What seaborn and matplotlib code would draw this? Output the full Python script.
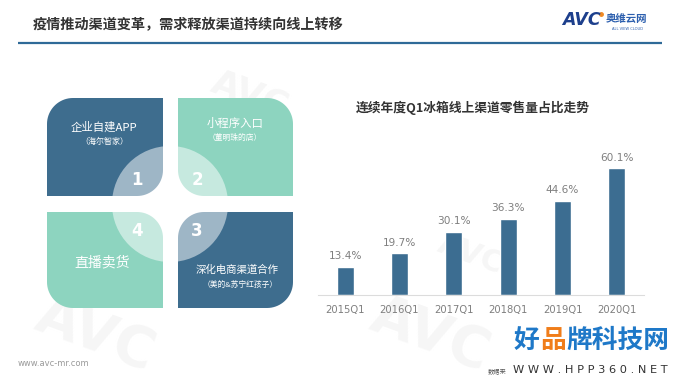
import numpy as np
import pandas as pd
import matplotlib
matplotlib.use("Agg")
import matplotlib.pyplot as plt
import seaborn as sns
from matplotlib.patches import Polygon, Circle

# ---- data ----
quarters = ["2015Q1", "2016Q1", "2017Q1", "2018Q1", "2019Q1", "2020Q1"]
online_share = [13.4, 19.7, 30.1, 36.3, 44.6, 60.1]
share_labels = ["13.4%", "19.7%", "30.1%", "36.3%", "44.6%", "60.1%"]

page_title = "疫情推动渠道变革，需求释放渠道持续向线上转移"
chart_title = "连续年度Q1冰箱线上渠道零售量占比走势"
tile_titles = ["企业自建APP", "小程序入口", "深化电商渠道合作", "直播卖货"]
tile_notes = ["（海尔智家）", "（董明珠的店）", "（美的&苏宁红孩子）", ""]
tile_numbers = ["1", "2", "3", "4"]

sns.set_theme(style="white")
plt.rcParams["font.family"] = ["Noto Sans CJK SC", "DejaVu Sans"]

W, H = 680, 383
fig = plt.figure(figsize=(W / 100, H / 100), dpi=100)
fig.patch.set_facecolor("white")

# background / decoration axes in pixel coordinates
bg = fig.add_axes([0, 0, 1, 1])
bg.set_xlim(0, W)
bg.set_ylim(H, 0)
bg.axis("off")
bg.set_zorder(0)

DARK = "#3e6d8e"
TEAL = "#8dd4bf"

# faint watermarks
for (wx, wy, s) in [(95, 335, 40), (430, 335, 40), (250, 95, 26), (470, 255, 22)]:
    bg.text(wx, wy, "AVC", fontsize=s, fontweight="bold", color="#f6f6f6",
            rotation=-20, ha="center", va="center", zorder=0.5,
            family=["DejaVu Sans"])

# title and rule
bg.text(33, 25, page_title, fontsize=10.2, fontweight="bold", color="#333333",
        ha="left", va="center")
bg.plot([18, 662], [42.5, 42.5], color="#2f6a98", lw=1.6, solid_capstyle="butt")

# AVC logo
bg.text(562, 20, "AVC", fontsize=12.5, fontweight="bold", fontstyle="italic",
        color="#1d3f8c", ha="left", va="center", family=["DejaVu Sans"])
bg.plot([601], [14], marker="o", ms=2.5, color="#f08a24")
bg.text(606, 19, "奥维云网", fontsize=7.5, fontweight="bold", color="#2c5fae",
        ha="left", va="center")
bg.text(627, 29, "ALL VIEW CLOUD", fontsize=2.6, color="#2c5fae",
        ha="center", va="center", family=["DejaVu Sans"])


def leaf(x0, y0, x1, y1, r, corners):
    # corners: tuple of booleans (tl, tr, br, bl) -> rounded or not
    pts = []
    spec = [
        ((x0, y0), (x0 + r, y0 + r), 180, 270),
        ((x1, y0), (x1 - r, y0 + r), 270, 360),
        ((x1, y1), (x1 - r, y1 - r), 0, 90),
        ((x0, y1), (x0 + r, y1 - r), 90, 180),
    ]
    for rounded, (corner, centre, a0, a1) in zip(corners, spec):
        if rounded:
            ang = np.radians(np.linspace(a0, a1, 20))
            pts += list(zip(centre[0] + r * np.cos(ang), centre[1] + r * np.sin(ang)))
        else:
            pts.append(corner)
    return Polygon(pts, closed=True)


tiles = [
    ((47, 98, 163, 196), DARK, (True, False, True, False)),
    ((178, 98, 293, 196), TEAL, (False, True, False, True)),
    ((178, 212, 293, 308), DARK, (True, False, True, False)),
    ((47, 212, 163, 308), TEAL, (False, True, False, True)),
]
for (x0, y0, x1, y1), col, corners in tiles:
    p = leaf(x0, y0, x1, y1, 26, corners)
    p.set_facecolor(col)
    p.set_edgecolor("none")
    p.set_zorder(1)
    bg.add_patch(p)

bg.add_patch(Circle((170, 204), 58, facecolor="white", alpha=0.5,
                    edgecolor="none", zorder=2))
# re-whiten the gaps so the circle does not tint them
bg.add_patch(plt.Rectangle((163, 95), 15, 216, facecolor="white", edgecolor="none", zorder=2.1))
bg.add_patch(plt.Rectangle((40, 196), 260, 16, facecolor="white", edgecolor="none", zorder=2.1))

num_pos = [(137, 180), (197, 180), (197, 231), (137, 231)]
for (nx, ny), n in zip(num_pos, tile_numbers):
    bg.text(nx, ny, n, fontsize=12, fontweight="bold", color="white",
            ha="center", va="center", zorder=3, family=["DejaVu Sans"])

bg.text(104, 127, tile_titles[0], fontsize=8.2, color="white", ha="center", va="center", zorder=3)
bg.text(104, 141, tile_notes[0], fontsize=5.8, color="white", ha="center", va="center", zorder=3)
bg.text(235, 123, tile_titles[1], fontsize=8.2, color="white", ha="center", va="center", zorder=3)
bg.text(235, 138, tile_notes[1], fontsize=5.6, color="white", ha="center", va="center", zorder=3)
bg.text(237, 270, tile_titles[2], fontsize=7.5, color="white", ha="center", va="center", zorder=3)
bg.text(240, 285, tile_notes[2], fontsize=5.6, color="white", ha="center", va="center", zorder=3)
bg.text(102, 262, tile_titles[3], fontsize=10, color="white", ha="center", va="center", zorder=3)

# footer
bg.text(18, 363, "www.avc-mr.com", fontsize=6, color="#9a9a9a", ha="left", va="center",
        family=["DejaVu Sans"])
bg.text(514, 340, "好", fontsize=18.5, fontweight="bold", color="#1e78c8", ha="left", va="center", zorder=5)
bg.text(540, 340, "品", fontsize=18.5, fontweight="bold", color="#f07d1a", ha="left", va="center", zorder=5)
bg.text(566, 340, "牌科技网", fontsize=18.5, fontweight="bold", color="#1e78c8", ha="left", va="center", zorder=5)
bg.text(488, 371, "数据来", fontsize=4.5, color="#555555", ha="left", va="center", zorder=5)
bg.text(668, 370, "W W W . H P P 3 6 0 . N E T", fontsize=8.2, color="#333333",
        ha="right", va="center", zorder=5, family=["DejaVu Sans"])

# chart title
bg.text(473, 108, chart_title, fontsize=9.2, fontweight="bold", color="#333333",
        ha="center", va="center", zorder=3)

# ---- bar chart ----
ax = fig.add_axes([318 / W, 1 - 295 / H, 326 / W, 165 / H])
ax.set_zorder(2)
ax.patch.set_alpha(0)
df = pd.DataFrame({"quarter": quarters, "share": online_share})
sns.barplot(data=df, x="quarter", y="share", color="#3c6d91", width=0.31,
            saturation=1, ax=ax)
ax.set_xlim(-0.5, 5.5)
ax.set_ylim(0, 78.3)
ax.bar_label(ax.containers[0], labels=share_labels, padding=4, fontsize=7.6,
             color="#7f7f7f", family=["DejaVu Sans"])
ax.set_xlabel("")
ax.set_ylabel("")
ax.set_yticks([])
for s in ["top", "right", "left"]:
    ax.spines[s].set_visible(False)
ax.spines["bottom"].set_color("#dcdcdc")
ax.spines["bottom"].set_linewidth(0.8)
ax.tick_params(axis="x", length=0, pad=7, labelsize=7.2, labelcolor="#7f7f7f")
for t in ax.get_xticklabels():
    t.set_family(["DejaVu Sans"])

fig.savefig("out.png", dpi=100, facecolor="white")
